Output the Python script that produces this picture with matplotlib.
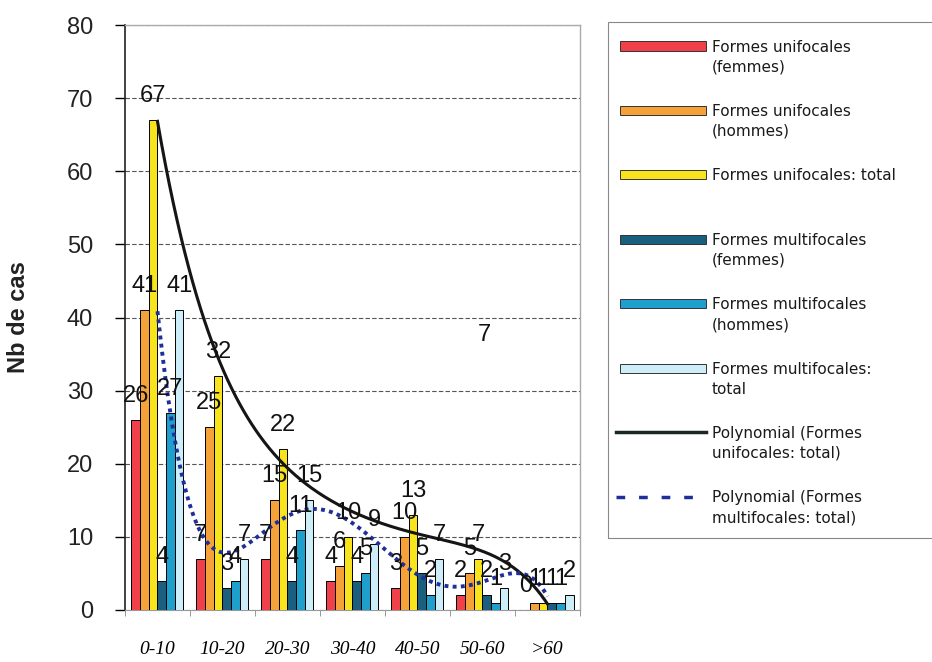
import matplotlib.pyplot as plt
import numpy as np
from matplotlib.patches import Rectangle
from matplotlib.lines import Line2D

# nombre de cas par tranche d'age
categories = ['0-10', '10-20', '20-30', '30-40', '40-50', '50-60', '>60']
uni_femmes = [26, 7, 7, 4, 3, 2, 0]
uni_hommes = [41, 25, 15, 6, 10, 5, 1]
uni_total = [67, 32, 22, 10, 13, 7, 1]
multi_femmes = [4, 3, 4, 4, 5, 2, 1]
multi_hommes = [27, 4, 11, 5, 2, 1, 1]
multi_total = [41, 7, 15, 9, 7, 3, 2]

labels = ['Formes unifocales\n(femmes)', 'Formes unifocales\n(hommes)',
          'Formes unifocales: total', 'Formes multifocales\n(femmes)',
          'Formes multifocales\n(hommes)', 'Formes multifocales:\ntotal']
colors = ['#f0404a', '#f5a23a', '#f8e41c', '#1b5f7e', '#1fa0cc', '#cdeef8']
trend_labels = ['Polynomial (Formes\nunifocales: total)',
                'Polynomial (Formes\nmultifocales: total)']

W, H = 932, 662
fig = plt.figure(figsize=(W/100, H/100), dpi=100)
ax = fig.add_axes([125/W, 1-610/H, (580-125)/W, (610-25)/H])

x = np.arange(len(categories))
w = 0.8/6
series = [uni_femmes, uni_hommes, uni_total, multi_femmes, multi_hommes, multi_total]
for k, vals in enumerate(series):
    pos = x + (k-2.5)*w
    ax.bar(pos, vals, w, color=colors[k], edgecolor='black', linewidth=0.7, zorder=3)
    for p, v in zip(pos, vals):
        ax.annotate(str(v), (p, v), xytext=(0, 13), textcoords='offset points',
                    ha='center', va='baseline', fontsize=17,
                    family='Liberation Sans', color='#111111', zorder=6)

# stray label in the original
ax.text(5.03, 37.6, '7', ha='center', va='center', fontsize=17,
        family='Liberation Sans', color='#111111')

# polynomial trendlines (order 5)
xs = np.linspace(0, 6, 300)
cu = np.polyfit(x, uni_total, 5)
cm = np.polyfit(x, multi_total, 5)
ax.plot(xs, np.polyval(cu, xs), color='#151515', lw=2.2, zorder=5)
ax.plot(xs, np.polyval(cm, xs), color='#1f2f9a', lw=2.8, ls=(0, (1, 1.1)), zorder=5)

ax.set_xlim(-0.5, 6.5)
ax.set_ylim(0, 80)
ax.set_yticks(range(0, 81, 10))
ax.set_xticks(x)
ax.set_xticklabels(categories, family='Liberation Serif', style='italic', fontsize=14)
ax.set_xticks(np.arange(-0.5, 7, 1), minor=True)
ax.tick_params(axis='x', which='major', length=0, pad=22)
ax.tick_params(axis='x', which='minor', length=4, color='#888888')
ax.tick_params(axis='y', length=7, width=1, direction='out', pad=16, labelsize=17)
for t in ax.get_yticklabels():
    t.set_family('Liberation Sans')
    t.set_color('#222222')

ax.set_axisbelow(True)
ax.yaxis.grid(True, color='#555555', ls=(0, (4, 2)), lw=0.8)
ax.spines['left'].set_color('#222222')
ax.spines['left'].set_linewidth(1.2)
for s in ['top', 'right']:
    ax.spines[s].set_color('#aaaaaa')
    ax.spines[s].set_linestyle((0, (2, 1)))
    ax.spines[s].set_linewidth(1)
ax.spines['bottom'].set_color('#999999')

fig.text(19/W, 1-317/H, 'Nb de cas', rotation=90, fontsize=17, fontweight='bold',
         family='Liberation Sans', ha='center', va='center', color='#222222')

# legend drawn by hand (handles line up with the first line of text)
def fx(px):
    return px/W

def fy(py):
    return 1 - py/H

fig.add_artist(Rectangle((fx(608), fy(538)), (945-608)/W, (538-22)/H,
                         transform=fig.transFigure, fill=False,
                         edgecolor='#888888', lw=0.8))
entries = labels + trend_labels
for i, lab in enumerate(entries):
    yc = 46 + i*64.4
    if i < 6:
        fig.add_artist(Rectangle((fx(620), fy(yc+4.5)), 86/W, 9/H,
                                 transform=fig.transFigure, facecolor=colors[i],
                                 edgecolor='#333333', lw=0.7))
    elif i == 6:
        fig.add_artist(Line2D([fx(616), fx(706)], [fy(yc), fy(yc)],
                              transform=fig.transFigure, color='#1a2a22', lw=2.5))
    else:
        fig.add_artist(Line2D([fx(616), fx(700)], [fy(yc), fy(yc)],
                              transform=fig.transFigure, color='#1f2f9a', lw=2.5,
                              ls=(0, (2.5, 4))))
    for j, line in enumerate(lab.split('\n')):
        fig.text(fx(712), fy(yc + 5.5 + j*20), line, fontsize=11,
                 family='DejaVu Sans', va='baseline', ha='left', color='#1a1a1a')

fig.savefig('out.png', dpi=100)
